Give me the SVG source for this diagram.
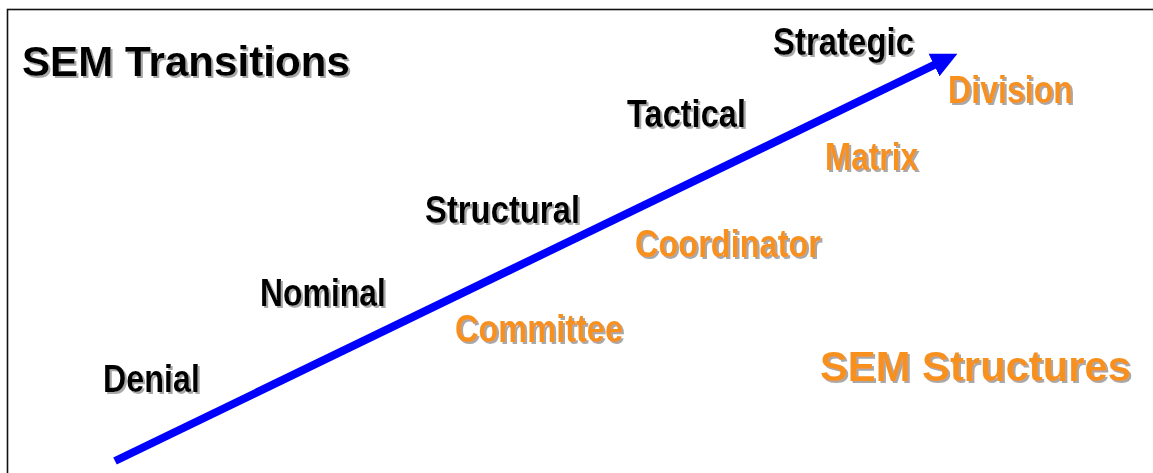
<svg xmlns="http://www.w3.org/2000/svg" width="1153" height="473" viewBox="0 0 1153 473">
  <defs>
    <style>
      .title { font-family: "Liberation Sans", Arial, sans-serif; font-weight: bold; font-size: 42px; }
      .lbl { font-family: "Liberation Sans Narrow", "Liberation Sans", Arial, sans-serif; font-size: 39px; font-weight: bold; }
      .blk { fill: #000000; }
      .org { fill: #F7901E; }
      .sh { filter: url(#sh); }
    </style>
    <filter id="sh" x="-5%" y="-15%" width="115%" height="140%">
      <feGaussianBlur in="SourceAlpha" stdDeviation="0.7"/>
      <feOffset dx="2" dy="2" result="o"/>
      <feFlood flood-color="#a8a8a8"/>
      <feComposite in2="o" operator="in"/>
      <feMerge>
        <feMergeNode/>
        <feMergeNode in="SourceGraphic"/>
      </feMerge>
    </filter>
    <marker id="head" markerUnits="userSpaceOnUse" markerWidth="26" markerHeight="26" viewBox="0 0 25 24" refX="13" refY="12" orient="auto">
      <path d="M0,0 L25,12 L0,24 z" fill="#0000FF"/>
    </marker>
  </defs>
  <rect x="0" y="0" width="1153" height="473" fill="#ffffff"/>
  <rect id="frame" x="7.5" y="9.5" width="1160" height="480" fill="none" stroke="#111111" stroke-width="1.6"/>

  <g id="connectors">
    <line x1="115" y1="461" x2="946.2" y2="59.2" stroke="#0000FF" stroke-width="8" marker-end="url(#head)"/>
  </g>

  <g id="title-transitions" class="sh"><text class="title blk" x="22" y="76" textLength="328" lengthAdjust="spacingAndGlyphs">SEM Transitions</text></g>
  <g id="title-structures" class="sh"><text class="title org" x="820" y="381" textLength="311" lengthAdjust="spacingAndGlyphs">SEM Structures</text></g>

  <g id="denial" class="sh"><text class="lbl blk" x="103" y="392" textLength="97" lengthAdjust="spacingAndGlyphs">Denial</text></g>
  <g id="nominal" class="sh"><text class="lbl blk" x="260" y="306" textLength="126" lengthAdjust="spacingAndGlyphs">Nominal</text></g>
  <g id="structural" class="sh"><text class="lbl blk" x="425" y="223" textLength="155" lengthAdjust="spacingAndGlyphs">Structural</text></g>
  <g id="tactical" class="sh"><text class="lbl blk" x="627" y="127" textLength="119" lengthAdjust="spacingAndGlyphs">Tactical</text></g>
  <g id="strategic" class="sh"><text class="lbl blk" x="773" y="55" textLength="141" lengthAdjust="spacingAndGlyphs">Strategic</text></g>

  <g id="committee" class="sh"><text class="lbl org" x="455" y="342" textLength="168" lengthAdjust="spacingAndGlyphs">Committee</text></g>
  <g id="coordinator" class="sh"><text class="lbl org" x="635" y="257" textLength="186" lengthAdjust="spacingAndGlyphs">Coordinator</text></g>
  <g id="matrix" class="sh"><text class="lbl org" x="825" y="170" textLength="93" lengthAdjust="spacingAndGlyphs">Matrix</text></g>
  <g id="division" class="sh"><text class="lbl org" x="948" y="103" textLength="125" lengthAdjust="spacingAndGlyphs">Division</text></g>
</svg>
